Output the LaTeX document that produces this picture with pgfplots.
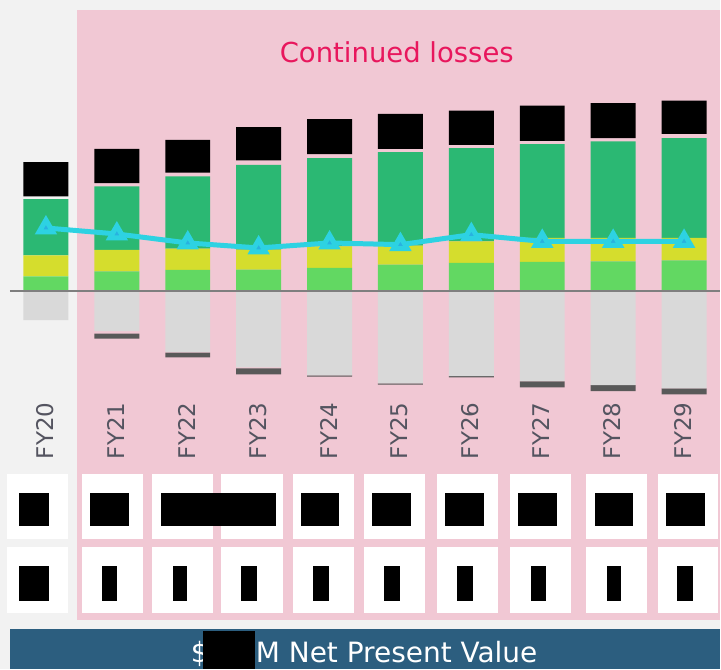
\documentclass[border=0pt]{standalone}
\usepackage{pgfplots}
\pgfplotsset{compat=1.18}
\usepackage{fontspec}
\setmainfont{DejaVu Sans}
\definecolor{bggray}{HTML}{F2F2F2}
\definecolor{pinkbg}{HTML}{F1C8D4}
\definecolor{topgreen}{HTML}{2BB873}
\definecolor{ylw}{HTML}{D5DD2D}
\definecolor{lgreen}{HTML}{62D862}
\definecolor{neggray}{HTML}{D9D9D9}
\definecolor{darkline}{HTML}{595959}
\definecolor{zeroline}{HTML}{7F7F7F}
\definecolor{cyanline}{HTML}{2DD2E2}
\definecolor{cyanmark}{HTML}{28B2E0}
\definecolor{titlepink}{HTML}{E8175D}
\definecolor{banner}{HTML}{2C5E7F}
\definecolor{lblgray}{HTML}{545460}
\begin{document}
\begin{tikzpicture}[x=1bp,y=1bp]
% backgrounds
\fill[bggray] (0,0) rectangle (721,670);
\fill[pinkbg] (77,49) rectangle (721,660);
\fill[banner] (10,0) rectangle (721,40);
\pgfplotsset{base/.style={at={(0,0)}, anchor=south west, x=1bp, y=1bp,
  xmin=0, xmax=721, ymin=-378.5, ymax=291.5, hide axis, clip=false}}
% positive stack
\begin{axis}[base, ybar stacked, bar width=45bp]
\addplot[fill=lgreen, draw=none] coordinates {(46,14.8) (117,19.8) (188,21.2) (259,21.5) (330,23.2) (401,26.5) (472,28.2) (543,29.2) (614,29.8) (685,30.8)};
\addplot[fill=ylw, draw=none] coordinates {(46,21.0) (117,21.4) (188,21.3) (259,20.0) (330,21.6) (401,19.0) (472,21.6) (543,24.0) (614,23.4) (685,22.4)};
\addplot[fill=topgreen, draw=none] coordinates {(46,56.4) (117,63.6) (188,72.3) (259,85.0) (330,88.4) (401,93.7) (472,93.4) (543,94.0) (614,96.6) (685,100.0)};
\addplot[fill=none, draw=none] coordinates {(46,2.6) (117,3.4) (188,3.7) (259,4.3) (330,4.0) (401,3.3) (472,3.3) (543,3.3) (614,3.4) (685,4.3)};
\addplot[fill=black, draw=none] coordinates {(46,34.4) (117,34.3) (188,33.0) (259,33.4) (330,35.0) (401,35.0) (472,34.3) (543,35.3) (614,35.0) (685,33.3)};
\end{axis}
% negative stack
\begin{axis}[base, ybar stacked, bar width=45bp]
\addplot[fill=neggray, draw=none] coordinates {(46,-29.2) (117,-40.2) (188,-61.2) (259,-76.5) (330,-84.5) (401,-92.5) (472,-85.2) (543,-90.2) (614,-94.2) (685,-97.5)};
\addplot[fill=none, draw=none] coordinates {(46,0) (117,-2.3) (188,-0.3) (259,-1.0) (330,0) (401,0) (472,0) (543,-0.3) (614,0) (685,0)};
\addplot[fill=darkline, draw=none] coordinates {(46,0) (117,-5) (188,-5) (259,-6) (330,-1.2) (401,-1.2) (472,-1.2) (543,-6) (614,-6) (685,-6)};
\end{axis}
\draw[zeroline, line width=2bp] (10,378.5) -- (721,378.5);
% line
\begin{axis}[base]
\addplot[cyanline, line width=5bp, mark=triangle*, mark size=8bp,
  mark options={fill=cyanmark, draw=none}] coordinates {(46,63.2) (117,57.2) (188,48.2) (259,43.2) (330,48.2) (401,46.5) (472,56.5) (543,49.8) (614,49.8) (685,49.8)};
\end{axis}
% title
\node[anchor=base west, inner sep=0, text=titlepink, font=\fontsize{27.5bp}{33bp}\selectfont] at (280,607) {Continued losses};
% FY labels
\foreach \xx/\lab in {46/FY20,117/FY21,188/FY22,259/FY23,330/FY24,401/FY25,472/FY26,543/FY27,614/FY28,685/FY29}{
  \node[rotate=90, anchor=west, inner sep=0, text=lblgray, font=\fontsize{23bp}{28bp}\selectfont] at (\xx-1,210) {\lab};
}
% table cells
\foreach \a/\b in {7/68,82/143,152/213,221/283,293/354,365/426,438/499,511/572,587/648,659/719}{
  \fill[white] (\a,130) rectangle (\b,195);
  \fill[white] (\a,56) rectangle (\b,122);
}
\foreach \a/\b in {19/49,90/129,161/276,301/339,373/412,446/485,519/558,596/634,667/706}{
  \fill[black] (\a,143) rectangle (\b,176);
}
\foreach \a/\b in {19/49,102/117,173/187,241/257,313/329,385/401,458/474,532/547,608/622,678/694}{
  \fill[black] (\a,68) rectangle (\b,103);
}
% banner text
\node[anchor=base west, inner sep=0, text=white, font=\fontsize{28bp}{33bp}\selectfont] at (191,7) {\$};
\fill[black] (203,0) rectangle (255,38);
\node[anchor=base west, inner sep=0, text=white, font=\fontsize{28bp}{33bp}\selectfont] at (256,7) {M Net Present Value};
\end{tikzpicture}
\end{document}
